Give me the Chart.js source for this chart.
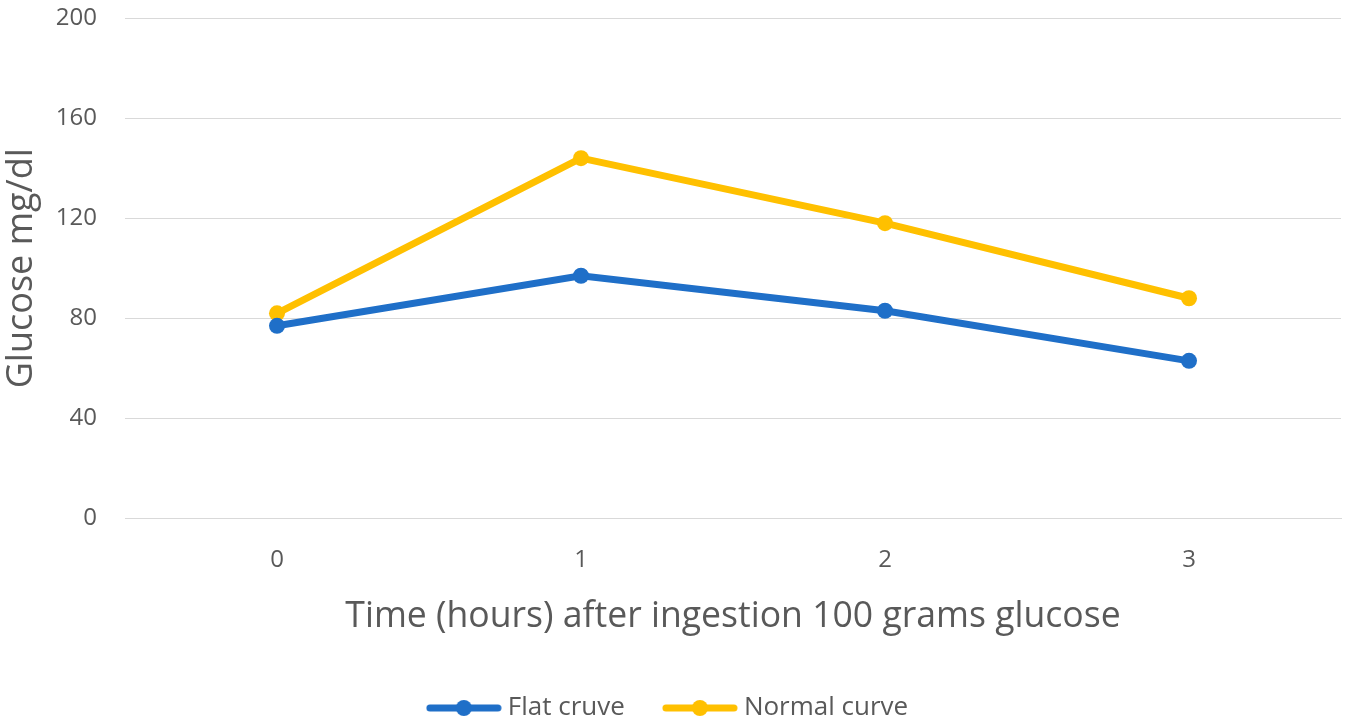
<!DOCTYPE html>
<html>
<head>
<meta charset="utf-8">
<script src="https://cdn.jsdelivr.net/npm/chart.js@4"></script>
<style>
html,body{margin:0;padding:0;background:#fff;}
#wrap{width:1348px;height:722px;}
</style>
</head>
<body>
<div id="wrap"><canvas id="c" width="1348" height="722"></canvas></div>
<script>
const categories = ['0', '1', '2', '3'];
const flatCurve = [77, 97, 83, 63];
const normalCurve = [82, 144, 118, 88];
const seriesNames = ['Flat cruve', 'Normal curve'];
const yTicks = [0, 40, 80, 120, 160, 200];

const BLUE = '#1F6FC8';
const YELLOW = '#FFC000';
const FONT = "'Open Sans', 'Noto Sans', sans-serif";

function legendIcon(color) {
  const c = document.createElement('canvas');
  c.width = 76; c.height = 18;
  const g = c.getContext('2d');
  g.strokeStyle = color; g.lineWidth = 7; g.lineCap = 'round';
  g.beginPath(); g.moveTo(4, 9); g.lineTo(72, 9); g.stroke();
  g.fillStyle = color;
  g.beginPath(); g.arc(38, 9, 8, 0, Math.PI * 2); g.fill();
  return c;
}

new Chart(document.getElementById('c'), {
  type: 'line',
  data: {
    labels: categories,
    datasets: [
      { label: seriesNames[0], data: flatCurve, borderColor: BLUE, backgroundColor: BLUE,
        borderWidth: 7, pointRadius: 8, pointHoverRadius: 8, pointBorderWidth: 0, tension: 0 },
      { label: seriesNames[1], data: normalCurve, borderColor: YELLOW, backgroundColor: YELLOW,
        borderWidth: 7, pointRadius: 8, pointHoverRadius: 8, pointBorderWidth: 0, tension: 0 }
    ]
  },
  options: {
    responsive: false,
    animation: false,
    devicePixelRatio: 1,
    layout: { autoPadding: false, padding: { top: 18, right: 7, left: 0, bottom: -9 } },
    plugins: {
      tooltip: { enabled: false },
      legend: {
        position: 'bottom',
        labels: {
          usePointStyle: true,
          pointStyleWidth: 62,
          boxHeight: 18,
          padding: 44,
          color: '#595959',
          font: { family: FONT, size: 26 },
          generateLabels: (chart) => chart.data.datasets.map((d, i) => ({
            text: d.label,
            pointStyle: legendIcon(d.borderColor),
            fillStyle: d.borderColor,
            strokeStyle: d.borderColor,
            lineWidth: 0,
            hidden: false,
            datasetIndex: i,
            fontColor: '#595959'
          }))
        }
      }
    },
    scales: {
      x: {
        offset: true,
        grid: { display: false, drawTicks: false },
        border: { display: true, color: '#D9D9D9', width: 1 },
        ticks: { color: '#595959', font: { family: FONT, size: 24 }, padding: 27 },
        title: { display: true, text: 'Time (hours) after ingestion 100 grams glucose',
          color: '#595959', font: { family: FONT, size: 35.6 }, padding: { top: -6, bottom: 13 } }
      },
      y: {
        min: 0, max: 200,
        afterBuildTicks: (axis) => { axis.ticks = yTicks.map(v => ({ value: v })); },
        afterFit: (axis) => { axis.width = 125; axis.paddingTop = 0; axis.paddingBottom = 0; },
        grid: { color: '#D9D9D9', lineWidth: 1, drawTicks: false },
        border: { display: false },
        ticks: { color: '#595959', font: { family: FONT, size: 24 }, padding: 28 },
        title: { display: true, text: 'Glucose mg/dl', color: '#595959',
          font: { family: FONT, size: 36 }, padding: { top: 0, bottom: 12 } }
      }
    }
  }
});
</script>
</body>
</html>
